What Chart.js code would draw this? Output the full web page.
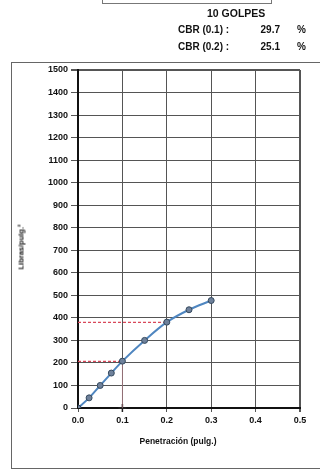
<!DOCTYPE html>
<html>
<head>
<meta charset="utf-8">
<script src="https://cdn.jsdelivr.net/npm/chart.js@4/dist/chart.umd.min.js"></script>
<style>
    body {
        margin: 0;
        background: #fff;
        font-family: "Liberation Sans", Arial, sans-serif;
        font-weight: bold;
        color: #111;
    }
    #wrap {
        position: relative;
        width: 320px;
        height: 472px;
        overflow: hidden;
    }
    .abs {
        position: absolute;
        white-space: nowrap;
    }
    .hdrbox {
        left: 102px;
        top: -20px;
        width: 168px;
        height: 22px;
        border: 1px solid #777;
    }
    .frame {
        left: 11px;
        top: 62px;
        width: 330px;
        height: 405px;
        border: 1px solid #666;
    }
    .t9 {
        font-size: 10px;
        line-height: 11px;
    }
    #ytitle {
        left: 21px;
        top: 247px;
        font-size: 7.5px;
        transform: translate(-50%, -50%) rotate(-90deg);
    }
    #xtitle {
        left: 178px;
        top: 441px;
        font-size: 8.5px;
        transform: translate(-50%, -50%);
    }
</style>
</head>
<body>
<div id="wrap">
    <div class="abs hdrbox"></div>
    <div class="abs frame"></div>
    <canvas id="cbrChart" width="320" height="472" class="abs" style="left:0;top:0"></canvas>
    <div class="abs" style="left:207px;top:8px;font-size:10.5px;line-height:11px">10 GOLPES</div>
    <div class="abs t9" style="left:178px;top:24px">CBR (0.1) :</div>
    <div class="abs t9" style="left:258px;top:24px;width:22px;text-align:right">29.7</div>
    <div class="abs t9" style="left:297px;top:24px">%</div>
    <div class="abs t9" style="left:178px;top:41px">CBR (0.2) :</div>
    <div class="abs t9" style="left:258px;top:41px;width:22px;text-align:right">25.1</div>
    <div class="abs t9" style="left:297px;top:41px">%</div>
    <div class="abs" id="ytitle">Libras/pulg.²</div>
    <div class="abs" id="xtitle">Penetración (pulg.)</div>
</div>
<script>
// datos del ensayo (10 golpes)
const penetracion = [0, 0.025, 0.05, 0.075, 0.1, 0.15, 0.2, 0.25, 0.3]
const carga = [0, 45, 100, 155, 208, 300, 381, 436, 477]
// cargas leidas a 0.1" y 0.2"
const cargaCbr01 = 207
const cargaCbr02 = 380
const xTicks = [0, 0.1, 0.2, 0.3, 0.4, 0.5]
const yTicks = [0, 100, 200, 300, 400, 500, 600, 700, 800, 900, 1000, 1100, 1200, 1300, 1400, 1500]

const tickFont = { family: '"Liberation Sans", Arial, sans-serif', size: 9, weight: 'bold' }

let curva = penetracion.map((p, i) => ({ x: p, y: carga[i] }))

let ctx = document.getElementById('cbrChart').getContext('2d')
new Chart(ctx, {
    type: 'scatter',
    data: {
        datasets: [
            {
                data: curva,
                showLine: true,
                cubicInterpolationMode: 'monotone',
                borderColor: '#4f86c0',
                borderWidth: 2,
                pointRadius: 3,
                pointBackgroundColor: '#6f819b',
                pointBorderColor: '#34495e',
                pointBorderWidth: 1
            },
            {
                data: [{ x: 0, y: cargaCbr01 }, { x: 0.1, y: cargaCbr01 }],
                showLine: true,
                borderColor: '#d9485a',
                borderWidth: 1.2,
                borderDash: [3, 2],
                pointRadius: 0
            },
            {
                data: [{ x: 0, y: cargaCbr02 }, { x: 0.2, y: cargaCbr02 }],
                showLine: true,
                borderColor: '#d9485a',
                borderWidth: 1.2,
                borderDash: [3, 2],
                pointRadius: 0
            },
            {
                data: [{ x: 0.1, y: 0 }, { x: 0.1, y: cargaCbr01 }],
                showLine: true,
                borderColor: 'rgba(235, 150, 165, 0.45)',
                borderWidth: 1,
                pointRadius: 0
            },
            {
                data: [{ x: 0.1, y: 0 }],
                pointStyle: 'cross',
                pointRadius: 4,
                borderColor: '#222',
                borderWidth: 1.5,
                clip: false
            }
        ]
    },
    options: {
        responsive: false,
        animation: false,
        devicePixelRatio: 1,
        layout: {
            padding: { top: 70, right: 20, left: 0, bottom: 0 }
        },
        plugins: {
            legend: { display: false },
            tooltip: { enabled: false }
        },
        scales: {
            x: {
                type: 'linear',
                min: 0,
                max: 0.5,
                afterBuildTicks: s => { s.ticks = xTicks.map(v => ({ value: v })) },
                afterFit: s => { s.height = 64 },
                ticks: {
                    font: tickFont,
                    color: '#111',
                    padding: 3,
                    maxRotation: 0,
                    callback: v => v.toFixed(1)
                },
                grid: {
                    color: '#555',
                    lineWidth: c => (c.tick && c.tick.value === 0.5 ? 2 : 1),
                    tickLength: 4
                },
                border: { color: '#111', width: 2 }
            },
            y: {
                min: 0,
                max: 1500,
                afterBuildTicks: s => { s.ticks = yTicks.map(v => ({ value: v })) },
                afterFit: s => { s.width = 78 },
                ticks: {
                    font: tickFont,
                    color: '#111',
                    padding: 3,
                    callback: v => String(v)
                },
                grid: {
                    color: '#555',
                    lineWidth: c => (c.tick && c.tick.value === 1500 ? 2 : 1),
                    tickLength: 7
                },
                border: { color: '#111', width: 2 }
            }
        }
    }
})
</script>
</body>
</html>
